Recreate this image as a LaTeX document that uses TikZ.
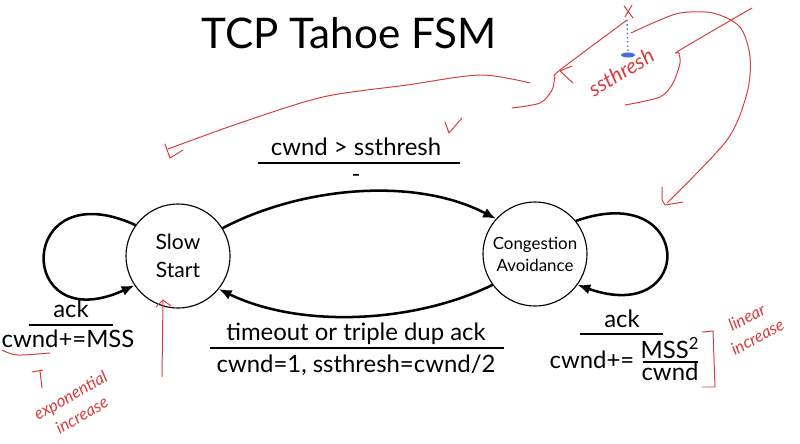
\documentclass[tikz,border=0pt]{standalone}
\usepackage{fontspec}
\setmainfont{Lato}
\definecolor{penred}{RGB}{214,62,62}
\definecolor{penblue}{RGB}{70,110,225}
\usetikzlibrary{arrows.meta}

\begin{document}
\begin{tikzpicture}[x=0.025cm, y=0.025cm,
  state/.style={draw, circle, line width=0.8pt, minimum size=2.6cm, inner sep=0pt, align=center},
  trans/.style={line width=1.8pt, -{Latex[length=3.2mm, width=2.6mm]}},
  lbl/.style={anchor=base, font=\fontsize{17}{20}\selectfont},
  bar/.style={line width=1.1pt},
  pen/.style={penred, line width=0.7pt, line cap=round, line join=round},
  hand/.style={penred, font=\fontsize{12}{16}\selectfont\itshape, align=center}]

  \useasboundingbox (0,0) rectangle (800,443);

  % Title
  \node[anchor=base, font=\fontsize{30}{36}\selectfont] (title) at (349,395) {TCP Tahoe FSM};

  % States
  \node[state, font=\fontsize{15}{20}\selectfont] (ss) at (178,187) {Slow\\Start};
  \node[state, font=\fontsize{12}{15.5}\selectfont] (ca) at (535,189) {Congestion\\Avoidance};

  % Transitions
  \draw[trans] (ss.32) .. controls +(80,42) and +(-80,42) .. (ca.138);
  \draw[trans] (ca.216) .. controls +(-80,-39) and +(80,-39) .. (ss.321);
  \draw[trans] (ss.144) .. controls +(-120,55) and +(-120,-55) .. (ss.214);
  \draw[trans] (ca.39) .. controls +(119,42) and +(119,-42) .. (ca.324);

  % Slow start -> congestion avoidance
  \node[lbl] (up-ev) at (356,288) {cwnd > ssthresh};
  \draw[bar] (258,280) -- (460,280);
  \node[font=\fontsize{17}{20}\selectfont] (up-act) at (356,265) {-};

  % Back to slow start
  \node[lbl] (down-ev) at (356,103) {timeout or triple dup ack};
  \draw[bar] (210,95) -- (504,95);
  \node[lbl] (down-act) at (356,71) {cwnd=1, ssthresh=cwnd/2};

  % Slow start loop
  \node[lbl] (ss-ev) at (71,126) {ack};
  \draw[bar] (29,118) -- (113,118);
  \node[lbl] (ss-act) at (68,96) {cwnd+=MSS};

  % Congestion avoidance loop
  \node[lbl] (ca-ev) at (622,116) {ack};
  \draw[bar] (580,109) -- (663,109);
  \node[lbl] (ca-act) at (592,75) {cwnd+=};
  \node[lbl] (ca-num) at (670,85) {MSS\textsuperscript{2}};
  \draw[bar] (643,81) -- (698,81);
  \node[lbl] (ca-den) at (670,63) {cwnd};

  % Pen notes, top
  \draw[pen] plot[smooth] coordinates {(168,294) (240,320) (323,346) (407,358) (480,368) (530,360)};
  \draw[pen] (165,299) -- (170,285) -- (183,293);
  \draw[pen] (445,321) -- (449,310) -- (462,325);

  % Pen notes, ssthresh
  \draw[pen] (624,437) -- (633,425) (632,438) -- (625,426);
  \draw[penblue, dotted, line width=1pt] (627,423) -- (628,390);
  \fill[penblue] (628,388) ellipse (7 and 2.5);
  \draw[pen] plot[smooth] coordinates {(627,423) (560,373) (555,366) (552,353) (540,340) (512,335)};
  \draw[pen] (572,377) -- (560,372) -- (573,360);
  \node[hand, font=\fontsize{15}{16}\selectfont\itshape, rotate=31] (ss-note) at (621,371) {ssthresh};
  \draw[pen] plot[smooth] coordinates {(631,410) (653,420) (680,430) (713,430) (740,416) (750,386) (747,350) (727,303) (667,240)};
  \draw[pen] (662,256) -- (662,243) -- (665,238) -- (683,241);
  \draw[pen] plot[smooth] coordinates {(752,435) (680,393) (679,390) (680,380) (673,360) (660,346) (625,338)};

  % Pen notes, bottom
  \draw[pen] plot[smooth] coordinates {(2,93) (17,88) (50,90)};
  \draw[pen] (32,71) -- (43,73) (40,72) -- (42,55);
  \node[hand, rotate=30] (exp-note) at (76,38) {exponential\\increase};
  \draw[pen] (162,66) -- (163,143);
  \draw[pen] (156,136) -- (163,143) -- (171,137);
  \draw[pen] (702,111) -- (713,112) -- (715,56) -- (702,56);
  \node[hand, rotate=28] (lin-note) at (752,116) {linear\\increase};
\end{tikzpicture}
\end{document}
